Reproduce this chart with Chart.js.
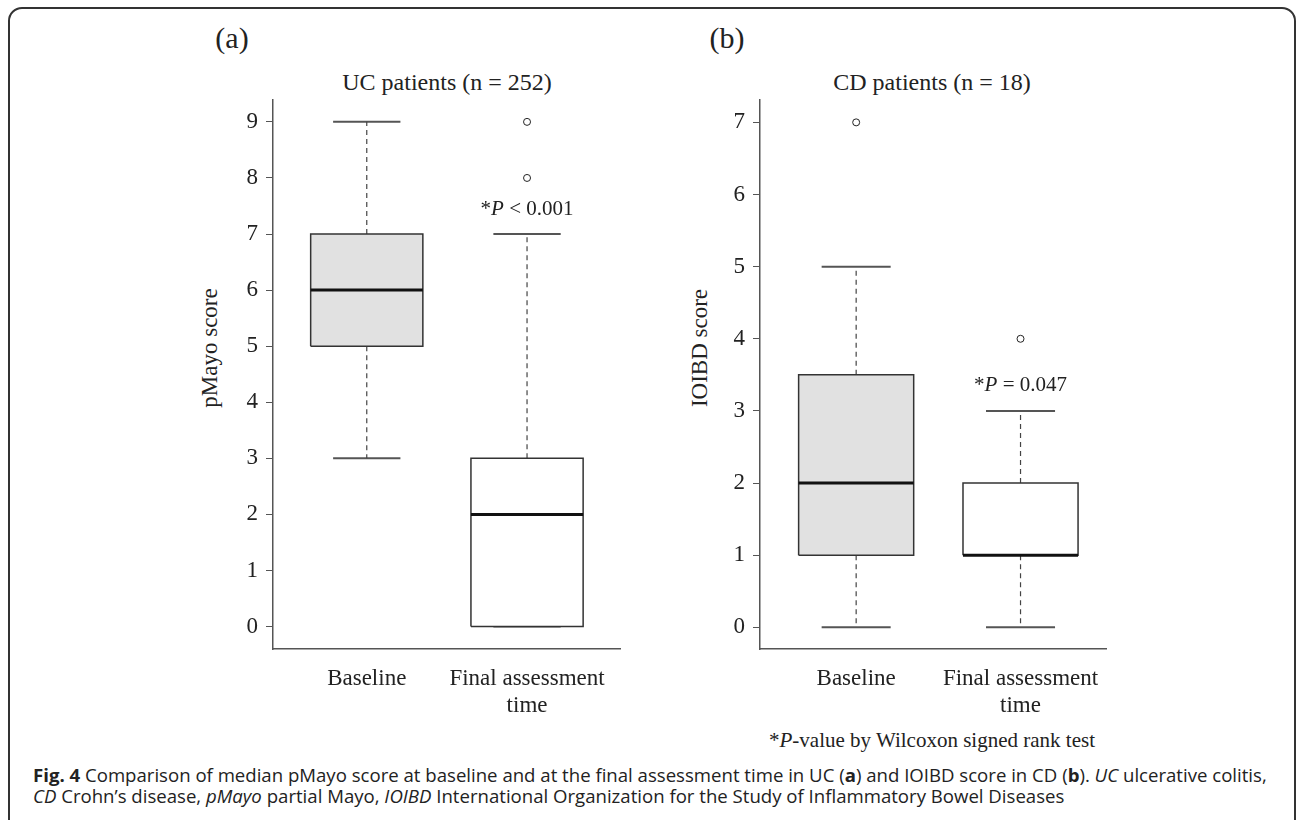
<!DOCTYPE html>
<html>
<head>
<meta charset="utf-8">
<script src="https://cdn.jsdelivr.net/npm/chart.js@4.4.1/dist/chart.umd.min.js"></script>
<style>
body { margin: 0; width: 1298px; height: 820px; background: #fff; position: relative; overflow: hidden; font-family: "Liberation Serif", serif; color: #222; }
.frame { position: absolute; left: 8px; top: 7px; width: 1288px; height: 840px; border: 2px solid #333; border-radius: 14px; box-sizing: border-box; }
.t { position: absolute; white-space: nowrap; transform: translate(-50%, -50%); line-height: 1; }
.ylab { position: absolute; white-space: nowrap; transform: translate(-50%, -50%) rotate(-90deg); font-size: 23px; line-height: 1; }
.cap { position: absolute; left: 33px; top: 764px; font-family: "Open Sans", sans-serif; font-size: 18.6px; line-height: 21px; color: #222; white-space: nowrap; }
canvas { position: absolute; }
</style>
</head>
<body>
<div class="frame"></div>

<div class="t" style="left:232px; top:38px; font-size:30px;">(a)</div>
<div class="t" style="left:447px; top:82px; font-size:24px;">UC patients (n = 252)</div>
<div class="t" style="left:727px; top:38px; font-size:30px;">(b)</div>
<div class="t" style="left:932px; top:82px; font-size:24px;">CD patients (n = 18)</div>
<div class="ylab" style="left:209px; top:348px;">pMayo score</div>
<div class="ylab" style="left:699px; top:348px;">IOIBD score</div>
<div class="t" style="left:932px; top:740px; font-size:21px;">*<i>P</i>-value by Wilcoxon signed rank test</div>

<canvas id="ca" width="480" height="650" style="left:150px; top:90px;"></canvas>
<canvas id="cb" width="480" height="650" style="left:637px; top:90px;"></canvas>

<div class="cap"><b>Fig. 4</b> Comparison of median pMayo score at baseline and at the final assessment time in UC (<b>a</b>) and IOIBD score in CD (<b>b</b>). <i>UC</i> ulcerative colitis,<br><i>CD</i> Crohn’s disease, <i>pMayo</i> partial Mayo, <i>IOIBD</i> International Organization for the Study of Inflammatory Bowel Diseases</div>

<script>
var groups = ['Baseline', ['Final assessment', 'time']];
var positions = [1, 2];

// (a) UC patients, pMayo score
var ucMin = [3, 0];
var ucQ1 = [5, 0];
var ucMedian = [6, 2];
var ucQ3 = [7, 3];
var ucMax = [9, 7];
var ucOutliers = [[], [8, 9]];
var ucTicks = [0, 1, 2, 3, 4, 5, 6, 7, 8, 9];

// (b) CD patients, IOIBD score
var cdMin = [0, 0];
var cdQ1 = [1, 1];
var cdMedian = [2, 1];
var cdQ3 = [3.5, 2];
var cdMax = [5, 3];
var cdOutliers = [[7], [4]];
var cdTicks = [0, 1, 2, 3, 4, 5, 6, 7];

var boxColors = ['#e1e1e1', '#ffffff'];

Chart.defaults.font.family = '"Liberation Serif", serif';
Chart.defaults.font.size = 23;
Chart.defaults.color = '#222';

function boxDatasets(mins, q1s, meds, q3s, maxs, outs) {
    var hw = 0.35, cw = 0.21;
    var sets = [];
    var whiskers = [], caps = [], medians = [], points = [];
    positions.forEach(function (x, i) {
        sets.push({
            data: [
                {x: x - hw, y: q1s[i]}, {x: x - hw, y: q3s[i]},
                {x: x + hw, y: q3s[i]}, {x: x + hw, y: q1s[i]}, {x: x - hw, y: q1s[i]}
            ],
            fill: 'shape',
            backgroundColor: boxColors[i],
            borderColor: '#333',
            borderWidth: 1.5,
            pointRadius: 0,
            order: 2
        });
        whiskers.push({x: x, y: q3s[i]}, {x: x, y: maxs[i]}, {x: x, y: null},
                      {x: x, y: q1s[i]}, {x: x, y: mins[i]}, {x: x, y: null});
        caps.push({x: x - cw, y: maxs[i]}, {x: x + cw, y: maxs[i]}, {x: x, y: null},
                  {x: x - cw, y: mins[i]}, {x: x + cw, y: mins[i]}, {x: x, y: null});
        medians.push({x: x - hw, y: meds[i]}, {x: x + hw, y: meds[i]}, {x: x, y: null});
        outs[i].forEach(function (v) { points.push({x: x, y: v}); });
    });
    sets.push({ data: whiskers, borderColor: '#444', borderWidth: 1.2, borderDash: [5, 4], pointRadius: 0, fill: false, order: 3 });
    sets.push({ data: caps, borderColor: '#555', borderWidth: 2, pointRadius: 0, fill: false, order: 3 });
    sets.push({ data: medians, borderColor: '#111', borderWidth: 3, pointRadius: 0, fill: false, order: 1 });
    sets.push({ data: points, showLine: false, pointRadius: 3.5, pointBackgroundColor: '#fff',
                pointBorderColor: '#222', pointBorderWidth: 1, order: 0 });
    return sets;
}

var notePlugin = {
    id: 'note',
    afterDatasetsDraw: function (chart, args, opts) {
        var ctx = chart.ctx;
        var x = chart.scales.x.getPixelForValue(opts.x);
        var y = chart.scales.y.getPixelForValue(opts.y);
        var parts = [['*', ''], ['P', 'italic '], [opts.text, '']];
        ctx.save();
        ctx.fillStyle = '#222';
        ctx.textBaseline = 'middle';
        var w = 0;
        parts.forEach(function (p) {
            ctx.font = p[1] + '21px "Liberation Serif"';
            w += ctx.measureText(p[0]).width;
        });
        var cx = x - w / 2;
        parts.forEach(function (p) {
            ctx.font = p[1] + '21px "Liberation Serif"';
            ctx.fillText(p[0], cx, y);
            cx += ctx.measureText(p[0]).width;
        });
        ctx.restore();
    }
};

function makeChart(id, sets, xmax, ymin, ymax, yticks, padRight, note) {
    return new Chart(document.getElementById(id), {
        type: 'line',
        data: { datasets: sets },
        plugins: [notePlugin],
        options: {
            responsive: false,
            animation: false,
            layout: { padding: { top: 10, right: padRight, bottom: 0, left: 0 } },
            plugins: { legend: { display: false }, tooltip: { enabled: false }, note: note },
            scales: {
                x: {
                    type: 'linear',
                    min: 0.415,
                    max: xmax,
                    afterBuildTicks: function (axis) {
                        axis.ticks = positions.map(function (v) { return {value: v}; });
                    },
                    afterFit: function (axis) {
                        axis.height = 91;
                        axis.paddingLeft = 0; axis.paddingRight = 0;
                    },
                    ticks: {
                        padding: 16,
                        maxRotation: 0,
                        autoSkip: false,
                        font: { size: 23, lineHeight: 1.2 },
                        callback: function (v, i) { return groups[i]; }
                    },
                    grid: { drawOnChartArea: false, drawTicks: false },
                    border: { display: true, color: '#555', width: 1.5 }
                },
                y: {
                    min: ymin,
                    max: ymax,
                    afterBuildTicks: function (axis) {
                        axis.ticks = yticks.map(function (v) { return {value: v}; });
                    },
                    afterFit: function (axis) {
                        axis.width = 123;
                        axis.paddingTop = 0; axis.paddingBottom = 0;
                    },
                    ticks: { padding: 8, font: { size: 23 } },
                    grid: { drawOnChartArea: false, drawTicks: true, tickLength: 7, color: '#555' },
                    border: { display: true, color: '#555', width: 1.5 }
                }
            }
        }
    });
}

makeChart('ca', boxDatasets(ucMin, ucQ1, ucMedian, ucQ3, ucMax, ucOutliers),
    2.58, -0.4, 9.39, ucTicks, 10, {x: 2, y: 7.43, text: ' < 0.001'});
makeChart('cb', boxDatasets(cdMin, cdQ1, cdMedian, cdQ3, cdMax, cdOutliers),
    2.52, -0.3, 7.31, cdTicks, 11, {x: 2, y: 3.35, text: ' = 0.047'});
</script>
</body>
</html>
